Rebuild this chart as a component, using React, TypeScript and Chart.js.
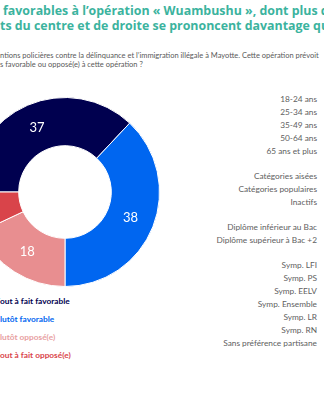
import React, { useEffect, useRef } from "react";
import { Chart, registerables } from "chart.js";

Chart.register(...registerables);

const categories = [
  "Tout à fait favorable",
  "Plutôt favorable",
  "Plutôt opposé(e)",
  "Tout à fait opposé(e)",
];
const values = [37, 38, 18, 7];
const colors = ["#00004F", "#0066F0", "#E88E90", "#D9444A"];
const legendColors = ["#00004F", "#0066F0", "#E8A0A2", "#D9444A"];

const ageLabels = ["18-24 ans", "25-34 ans", "35-49 ans", "50-64 ans", "65 ans et plus"];
const cspLabels = ["Catégories aisées", "Catégories populaires", "Inactifs"];
const diplomaLabels = ["Diplôme inférieur au Bac", "Diplôme supérieur à Bac +2"];
const partyLabels = [
  "Symp. LFI",
  "Symp. PS",
  "Symp. EELV",
  "Symp. Ensemble",
  "Symp. LR",
  "Symp. RN",
  "Sans préférence partisane",
];
const labelGroups = [ageLabels, cspLabels, diplomaLabels, partyLabels];

const titleLine1 = "favorables à l’opération « Wuambushu », dont plus d’un";
const titleLine2Hidden = "sympathisan";
const titleLine2 = "ts du centre et de droite se prononcent davantage que";
const subLine1Hidden = "d’interve";
const subLine1 =
  "ntions policières contre la délinquance et l’immigration illégale à Mayotte. Cette opération prévoit";
const subLine2Hidden = "Êtes-vou";
const subLine2 = "s favorable ou opposé(e) à cette opération ?";

const valueLabelPlugin = {
  id: "valueLabels",
  afterDatasetsDraw(chart: any) {
    const ctx = chart.ctx;
    const meta = chart.getDatasetMeta(0);
    ctx.save();
    ctx.fillStyle = "#ffffff";
    ctx.font = "13px Lato";
    ctx.textAlign = "center";
    ctx.textBaseline = "middle";
    meta.data.forEach((arc: any, i: number) => {
      const p = arc.tooltipPosition();
      ctx.fillText(String(chart.data.datasets[0].data[i]), p.x, p.y);
    });
    ctx.restore();
  },
};

function Donut() {
  const ref = useRef<HTMLCanvasElement | null>(null);
  useEffect(() => {
    if (!ref.current) return;
    const chart = new Chart(ref.current, {
      type: "doughnut",
      data: {
        labels: categories,
        datasets: [
          {
            data: values,
            backgroundColor: colors,
            borderColor: "#ffffff",
            borderWidth: 1,
          },
        ],
      },
      options: {
        responsive: false,
        animation: false,
        rotation: -90,
        cutout: "49%",
        layout: { padding: 0 },
        plugins: {
          legend: { display: false },
          tooltip: { enabled: false },
          title: { display: false },
        },
      },
      plugins: [valueLabelPlugin],
    });
    return () => chart.destroy();
  }, []);
  return (
    <canvas
      ref={ref}
      width={190}
      height={190}
      style={{ position: "absolute", left: -30, top: 97, width: 190, height: 190 }}
    />
  );
}

const hiddenPrefix: React.CSSProperties = { position: "absolute", right: "100%", top: 0 };

const titleStyle: React.CSSProperties = {
  position: "absolute",
  whiteSpace: "nowrap",
  fontFamily: "'Open Sans'",
  fontWeight: 700,
  fontSize: 12.4,
  lineHeight: "15px",
  color: "#3BB39E",
};

const subStyle: React.CSSProperties = {
  position: "absolute",
  left: 0,
  whiteSpace: "nowrap",
  fontFamily: "Lato",
  fontSize: 7.5,
  lineHeight: "10px",
  color: "#595959",
};

export default function App() {
  return (
    <div
      style={{
        position: "fixed",
        left: 0,
        top: 0,
        width: 324,
        height: 400,
        overflow: "hidden",
        background: "#ffffff",
      }}
    >
      <div style={{ ...titleStyle, left: 3, top: 3 }}>{titleLine1}</div>
      <div style={{ ...titleStyle, left: 0, top: 18 }}>
        <span style={hiddenPrefix}>{titleLine2Hidden}</span>
        {titleLine2}
      </div>
      <div style={{ ...subStyle, top: 51 }}>
        <span style={hiddenPrefix}>{subLine1Hidden}</span>
        {subLine1}
      </div>
      <div style={{ ...subStyle, top: 60 }}>
        <span style={hiddenPrefix}>{subLine2Hidden}</span>
        {subLine2}
      </div>

      <Donut />

      {categories.map((c, i) => (
        <div
          key={c}
          style={{
            position: "absolute",
            left: 0,
            top: 295 + i * 18,
            whiteSpace: "nowrap",
            fontFamily: "Lato",
            fontWeight: 700,
            fontSize: 8.3,
            lineHeight: "12px",
            color: legendColors[i],
          }}
        >
          <span style={hiddenPrefix}>{c.slice(0, 1)}</span>
          {c.slice(1)}
        </div>
      ))}

      <div
        style={{
          position: "absolute",
          right: 7,
          top: 92.5,
          textAlign: "right",
          fontFamily: "Lato",
          fontSize: 8.3,
          lineHeight: "13px",
          color: "#606060",
          whiteSpace: "nowrap",
        }}
      >
        {labelGroups.map((g, gi) => (
          <div key={gi} style={{ marginTop: gi === 0 ? 0 : 12 }}>
            {g.map((l) => (
              <div key={l}>{l}</div>
            ))}
          </div>
        ))}
      </div>
    </div>
  );
}
